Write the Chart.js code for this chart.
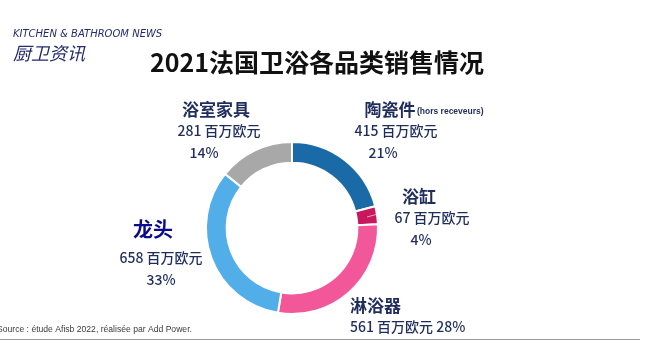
<!DOCTYPE html>
<html>
<head>
<meta charset="utf-8">
<script src="https://cdn.jsdelivr.net/npm/chart.js@4"></script>
<style>
  html, body { margin: 0; padding: 0; background: #fff; }
  #wrap { position: relative; width: 651px; height: 345px; }
</style>
</head>
<body>
<div id="wrap"><canvas id="myChart" width="651" height="345"></canvas></div>
<script>
// datos
const categorias = ['陶瓷件', '浴缸', '淋浴器', '龙头', '浴室家具'];
const valores = [415, 67, 561, 658, 281];
const porcentajes = [21, 4, 28, 33, 14];
const colores = ['#1b6aa8', '#c8175d', '#f2579a', '#52aee9', '#a8a8a8'];

const azul = '#1f2d5c';
const CJK = '"Noto Sans CJK SC", "Noto Sans", sans-serif';

// posicion de cada etiqueta: centro del titulo, del valor y del porcentaje
const etiquetas = [
  { y: 110, xt: 390, xv: 396, xp: 383 },  // 陶瓷件
  { y: 197, xt: 419, xv: 432, xp: 421 },  // 浴缸
  { y: 306, xt: 350, xv: 350, xp: 350 },  // 淋浴器 (alineado a la izquierda)
  { y: 229, xt: 153, xv: 161, xp: 161 },  // 龙头
  { y: 110, xt: 216, xv: 219, xp: 204 }   // 浴室家具
];

const textos = {
  id: 'textos',
  afterDraw(chart) {
    const c = chart.ctx;
    c.save();
    c.textBaseline = 'middle';

    // cabecera
    c.fillStyle = '#232a6e';
    c.font = 'italic 10px "DejaVu Sans", sans-serif';
    c.textAlign = 'left';
    c.fillText('KITCHEN & BATHROOM NEWS', 13, 34);
    c.font = 'italic 18px ' + CJK;
    c.fillText('厨卫资讯', 13, 53);

    c.fillStyle = '#111';
    c.font = 'bold 25px ' + CJK;
    c.textAlign = 'center';
    c.fillText('2021法国卫浴各品类销售情况', 317, 62);

    // etiquetas de cada categoria
    etiquetas.forEach((e, i) => {
      c.textAlign = i === 2 ? 'left' : 'center';
      if (i === 3) {
        c.fillStyle = '#0b0b8c';
        c.font = 'bold 20px ' + CJK;
      } else {
        c.fillStyle = azul;
        c.font = 'bold 17px ' + CJK;
      }
      c.fillText(categorias[i], e.xt, e.y);
      c.fillStyle = azul;
      c.font = '500 14px ' + CJK;
      if (i === 2) {
        c.fillText(valores[i] + ' 百万欧元 ' + porcentajes[i] + '%', e.xv, e.y + 21);
      } else {
        const dy = i === 3 ? 29 : 21;
        c.fillText(valores[i] + ' 百万欧元', e.xv, e.y + dy);
        c.fillText(porcentajes[i] + '%', e.xp, e.y + dy + 22);
      }
    });

    c.fillStyle = azul;
    c.font = 'bold 8.5px "Liberation Sans", sans-serif';
    c.textAlign = 'left';
    c.fillText('(hors receveurs)', 417, 112);

    // pequeña linea dentro del 浴缸
    c.strokeStyle = 'rgba(255,255,255,0.6)';
    c.lineWidth = 1;
    c.beginPath();
    c.moveTo(367, 217);
    c.lineTo(378, 214);
    c.stroke();

    // fuente
    c.fillStyle = '#3a3a3a';
    c.font = '8.6px "Liberation Sans", Arial, sans-serif';
    c.fillText('Source : étude Afisb 2022, réalisée par Add Power.', -3, 330);

    c.strokeStyle = '#9a9a9a';
    c.beginPath();
    c.moveTo(0, 339.5);
    c.lineTo(640, 339.5);
    c.stroke();
    c.restore();
  }
};

const ctx = document.querySelector('#myChart');

new Chart(ctx, {
  type: 'doughnut',
  data: {
    labels: categorias,
    datasets: [{
      data: valores,
      backgroundColor: colores,
      borderColor: '#ffffff',
      borderWidth: 2
    }]
  },
  options: {
    responsive: false,
    animation: false,
    cutout: '76%',
    layout: { padding: { left: 205, right: 272, top: 141, bottom: 30 } },
    plugins: {
      legend: { display: false },
      tooltip: { enabled: false }
    }
  },
  plugins: [textos]
});
</script>
</body>
</html>
